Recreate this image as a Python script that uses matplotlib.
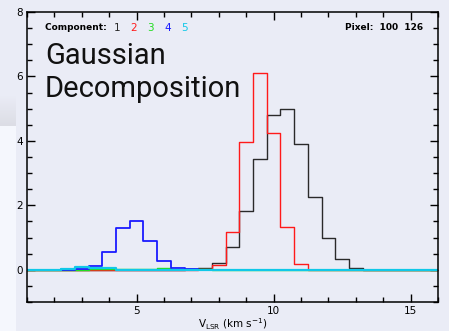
import numpy as np
import matplotlib
matplotlib.use('Agg')
import matplotlib.pyplot as plt
from matplotlib.patches import Rectangle
from matplotlib.ticker import MultipleLocator

# velocity channels (km/s), 0.5 km/s spacing
vel = [1.0, 1.5, 2.0, 2.5, 3.0, 3.5, 4.0, 4.5, 5.0, 5.5, 6.0, 6.5, 7.0, 7.5, 8.0, 8.5,
       9.0, 9.5, 10.0, 10.5, 11.0, 11.5, 12.0, 12.5, 13.0, 13.5, 14.0, 14.5, 15.0, 15.5, 16.0]

comp1 = [0, 0, 0, 0, 0, 0, 0, 0, 0, 0, 0, 0, 0.02, 0.05, 0.22, 0.72,
         1.83, 3.43, 4.79, 4.99, 3.90, 2.27, 0.98, 0.33, 0.07, 0, 0, 0, 0, 0, 0]
comp2 = [0, 0, 0, 0, 0, 0, 0, 0, 0, 0, 0, 0, 0, 0.01, 0.15, 1.17,
         3.98, 6.12, 4.26, 1.32, 0.18, 0, 0, 0, 0, 0, 0, 0, 0, 0, 0]
comp3 = [0, 0, 0, 0, 0, 0.02, 0.03, 0.02, 0.01, 0.01, 0.04, 0.02, 0.03, 0.01, 0, 0,
         0, 0, 0, 0, 0, 0, 0, 0, 0, 0, 0, 0, 0, 0, 0]
comp4 = [0, 0, 0, 0, 0.02, 0.13, 0.56, 1.29, 1.52, 0.88, 0.26, 0.05, 0.02, 0, 0, 0,
         0, 0, 0, 0, 0, 0, 0, 0, 0, 0, 0, 0, 0, 0, 0]
comp5 = [0, 0, 0, 0.02, 0.08, 0.05, 0.05, 0, 0, 0, 0, 0, 0, 0, 0, 0,
         0, 0, 0, 0, 0, 0, 0, 0, 0, 0, 0, 0, 0, 0, 0]

components = [comp1, comp2, comp3, comp4, comp5]
comp_labels = ['1', '2', '3', '4', '5']
colors = ['#2a2a2a', '#ff1a1a', '#22dd22', '#1a1aff', '#10c8e8']
widths = [1.0, 1.0, 1.0, 1.3, 1.6]

bg = '#eaecf6'
fig = plt.figure(figsize=(4.49, 3.31), dpi=100, facecolor=bg)

# pale panel strip on the left edge with a grey band on top
W, H = 449.0, 331.0
fig.patches.append(Rectangle((0, 0), 16 / W, (331 - 126) / H, transform=fig.transFigure,
                             facecolor='#f5f7fd', edgecolor='none', zorder=0))
grad = fig.add_axes([0, (331 - 126) / H, 16 / W, 30 / H], zorder=0)
grad.imshow(np.linspace(0, 1, 30).reshape(-1, 1), aspect='auto',
            cmap=matplotlib.colors.LinearSegmentedColormap.from_list('g', [bg, '#dcdde5']))
grad.axis('off')

ax = fig.add_axes([27 / W, 29 / H, 411 / W, 290 / H])
ax.set_facecolor('none')

for y, c, lw in zip(components, colors, widths):
    ax.step(vel, y, where='mid', color=c, lw=lw)

ax.set_xlim(1, 16)
ax.set_ylim(-1, 8)
ax.xaxis.set_major_locator(MultipleLocator(5))
ax.xaxis.set_minor_locator(MultipleLocator(1))
ax.yaxis.set_major_locator(MultipleLocator(2))
ax.yaxis.set_minor_locator(MultipleLocator(0.5))
ax.tick_params(which='both', direction='in', top=True, right=True, width=1.0,
               labelsize=7.5, pad=3)
ax.tick_params(which='major', length=6)
ax.tick_params(which='minor', length=3.5)
for s in ax.spines.values():
    s.set_linewidth(1.1)
    s.set_color('black')

ax.set_xlabel(r'V$_{\rm LSR}$ (km s$^{-1}$)', fontsize=7.5, labelpad=0)

# component key and pixel label
key_y = 0.945
tx = ax.text(0.045, key_y, 'Component:  ', transform=ax.transAxes, fontsize=6.5,
             fontweight='bold', va='center')
fig.canvas.draw()
x0 = ax.transAxes.inverted().transform(
    (tx.get_window_extent().x1, 0))[0]
for lab, c in zip(comp_labels, colors):
    t = ax.text(x0, key_y, lab, transform=ax.transAxes, fontsize=7.5, color=c, va='center')
    fig.canvas.draw()
    x0 = ax.transAxes.inverted().transform((t.get_window_extent().x1, 0))[0] + 0.025

ax.text(0.965, key_y, 'Pixel:  100  126', transform=ax.transAxes, fontsize=6.5,
        fontweight='bold', ha='right', va='center')

ax.text(45 / W, 1 - 97 / H, 'Gaussian\nDecomposition', transform=fig.transFigure,
        fontsize=21, family='Roboto', fontweight='normal', ha='left', va='baseline',
        linespacing=1.25, color='#111111', zorder=5)

fig.savefig('out.png', dpi=100, facecolor=bg)
